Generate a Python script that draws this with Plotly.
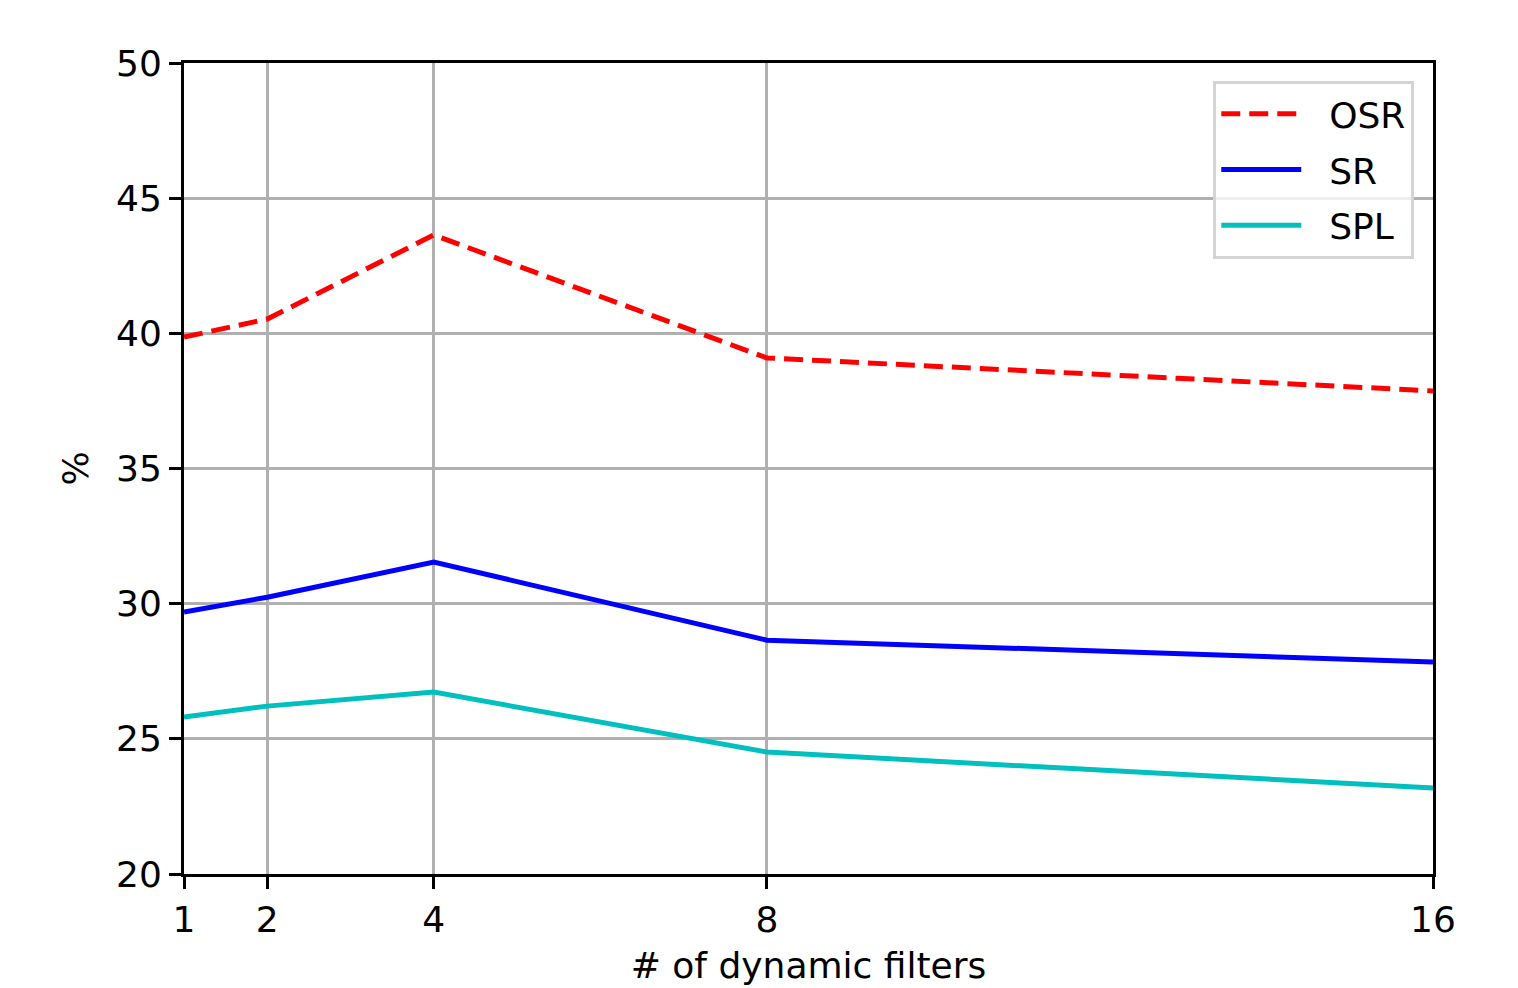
import plotly.graph_objects as go

filters = [1, 2, 4, 8, 16]
osr = [39.86, 40.53, 43.64, 39.09, 37.87]
sr = [29.69, 30.24, 31.54, 28.65, 27.84]
spl = [25.81, 26.21, 26.73, 24.51, 23.18]
x_ticks = [1, 2, 4, 8, 16]
y_ticks = [20, 25, 30, 35, 40, 45, 50]

FONT = "DejaVu Sans"
FS = 36
PAD = "\u00a0\u00a0"
fig = go.Figure()
fig.add_trace(go.Scatter(x=filters, y=osr, mode="lines", name=PAD + "OSR", legendgroup="a",
                         line=dict(color="#ff0000", width=5, dash="19px,9px")))
fig.add_trace(go.Scatter(x=filters, y=sr, mode="lines", name=PAD + "SR", legendgroup="b",
                         line=dict(color="#0000ff", width=5)))
fig.add_trace(go.Scatter(x=filters, y=spl, mode="lines", name=PAD + "SPL", legendgroup="c",
                         line=dict(color="#00bfbf", width=5)))

axis_common = dict(showline=True, linecolor="black", linewidth=3, mirror=True,
                   ticks="outside", ticklen=12, tickwidth=3, tickcolor="black",
                   showgrid=True, gridcolor="#b0b0b0", gridwidth=3, zeroline=False,
                   tickfont=dict(family=FONT, size=FS, color="black"))

fig.update_layout(
    width=1518, height=988,
    margin=dict(l=176, r=93, t=55, b=122),
    paper_bgcolor="white", plot_bgcolor="white",
    font=dict(family=FONT, size=FS, color="black"),
    xaxis=dict(range=[1, 16], tickvals=x_ticks, ticktext=[str(v) for v in x_ticks],
               title=dict(text="# of dynamic filters", font=dict(family=FONT, size=FS), standoff=14),
               **axis_common),
    yaxis=dict(range=[20, 50], tickvals=y_ticks,
               title=dict(text="%", font=dict(family=FONT, size=FS), standoff=17),
               **axis_common),
    legend=dict(x=0.985, y=0.978, xanchor="right", yanchor="top",
                bgcolor="rgba(255,255,255,0.8)", bordercolor="#d4d4d4", borderwidth=3,
                font=dict(family=FONT, size=FS, color="black"),
                tracegroupgap=6, itemwidth=80),
)

fig.write_html("out.html")
